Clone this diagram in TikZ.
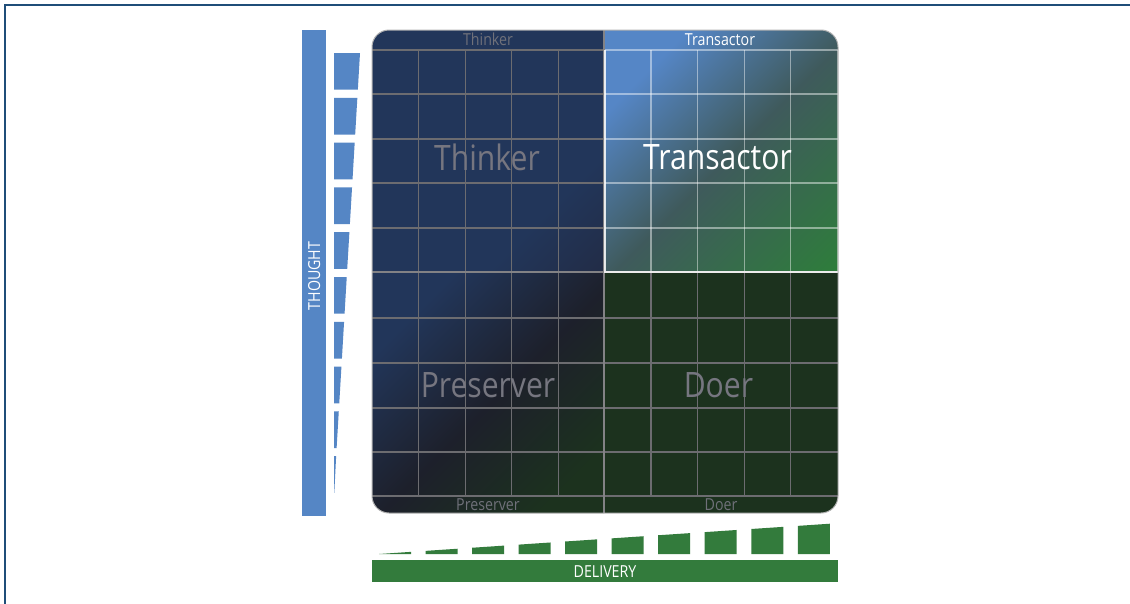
\documentclass[tikz,border=0pt]{standalone}
\usepackage{fontspec}
\setmainfont[FakeStretch=0.86]{Open Sans}
\definecolor{cFrame}{RGB}{31,78,121}
\definecolor{cThought}{RGB}{85,134,197}
\definecolor{cDelivery}{RGB}{51,123,60}
\definecolor{cNavy}{RGB}{34,54,90}
\definecolor{cNavyCorner}{RGB}{33,36,54}
\definecolor{cDarkMid}{RGB}{29,32,43}
\definecolor{cDarkGreen}{RGB}{28,50,30}
\definecolor{cTBlue}{RGB}{85,134,198}
\definecolor{cTTeal}{RGB}{63,90,92}
\definecolor{cTGreen}{RGB}{46,125,59}
\definecolor{cGrid}{RGB}{108,108,112}
\definecolor{cLabel}{RGB}{112,113,122}
\definecolor{cBigLabel}{RGB}{118,118,128}
\pgfdeclarehorizontalshading{thinkershade}{100bp}{color(0bp)=(cNavy); color(68bp)=(cNavy); color(100bp)=(cNavyCorner)}
\pgfdeclarehorizontalshading{preservershade}{100bp}{color(0bp)=(cNavy); color(27bp)=(cNavy); color(52bp)=(cDarkMid); color(76bp)=(cDarkGreen); color(100bp)=(cDarkGreen)}
\pgfdeclarehorizontalshading{transshade}{100bp}{color(0bp)=(cTBlue); color(27bp)=(cTBlue); color(52bp)=(cTTeal); color(85bp)=(cTGreen); color(100bp)=(cTGreen)}
\begin{document}
\begin{tikzpicture}[x=0.75pt,y=-0.75pt,
  smalllabel/.style={font=\fontsize{12.4}{14}\selectfont, inner sep=0pt, anchor=base},
  biglabel/.style={font=\fontsize{26.25}{30}\selectfont, inner sep=0pt, anchor=base},
  gridline/.style={draw=cGrid, line width=0.9pt},
  lightgrid/.style={draw=white, draw opacity=0.45, line width=0.9pt},
  divider/.style={draw=cGrid!85!white, line width=1.6pt}]
\useasboundingbox (0,0) rectangle (1130,603);
\fill[white] (0,0) rectangle (1130,603);
\draw[cFrame, line width=1.8pt] (5,5) rectangle (1160,640);

% THOUGHT bar and wedges
\fill[cThought] (302,30) rectangle (326,516);
\node[smalllabel, text=white, rotate=90] (thought) at (320,276) {THOUGHT};
\foreach \i in {0,...,9}{
  \pgfmathsetmacro\ta{53+44.8*\i}
  \pgfmathsetmacro\tb{\ta+36.7}
  \pgfmathsetmacro\xa{360-26*(\ta-53)/439}
  \pgfmathsetmacro\xb{max(334.3,360-26*(\tb-53)/439)}
  \fill[cThought] (334,\ta) -- (\xa,\ta) -- (\xb,\tb) -- (334,\tb) -- cycle;
}

% DELIVERY bar and wedges
\fill[cDelivery] (372,560) rectangle (838,582);
\node[smalllabel, text=white] (delivery) at (605,577.3) {DELIVERY};
\foreach \i in {0,...,9}{
  \pgfmathsetmacro\la{379+46.53*\i}
  \pgfmathsetmacro\lb{\la+32}
  \pgfmathsetmacro\ya{554-30.3*(\la-379)/451}
  \pgfmathsetmacro\yb{554-30.3*(\lb-379)/451}
  \fill[cDelivery] (\la,554) -- (\la,\ya) -- (\lb,\yb) -- (\lb,554) -- cycle;
}

% Matrix
\begin{scope}
  \clip[rounded corners=12.75pt] (372,30) rectangle (838,513);
  \shade[shading=thinkershade, shading angle=-45] (372,30) rectangle (604,272);
  \shade[shading=transshade, shading angle=-45] (604,30) rectangle (838,272);
  \shade[shading=preservershade, shading angle=-45] (372,272) rectangle (604,513);
  \fill[cDarkGreen] (604,272) rectangle (838,513);
  % grid: left column
  \foreach \x in {418.6,465.2,511.8,558.4}
    \draw[gridline] (\x,50) -- (\x,496);
  \foreach \y in {94,139,183,228,318,363,408,452}
    \draw[gridline] (372,\y) -- (604,\y);
  % grid: Doer
  \foreach \x in {651,697.6,744.2,790.8}
    \draw[gridline] (\x,272) -- (\x,496);
  \foreach \y in {318,363,408,452}
    \draw[gridline] (604,\y) -- (838,\y);
  % header / footer lines
  \draw[gridline] (372,50) -- (604,50);
  \draw[gridline] (372,496) -- (838,496);
  % grid: Transactor
  \foreach \x in {651,697.6,744.2,790.8}
    \draw[lightgrid] (\x,50) -- (\x,272);
  \foreach \y in {94,139,183,228}
    \draw[lightgrid] (604,\y) -- (838,\y);
  \draw[lightgrid] (604,50) -- (838,50);
  \draw[lightgrid] (837.5,50) -- (837.5,272);
  % dividers
  \draw[divider] (604,30) -- (604,513);
  \draw[divider] (372,272) -- (838,272);
  \draw[draw=white, draw opacity=0.85, line width=1.5pt] (605,50) -- (605,272) -- (838,272);
\end{scope}
\draw[draw=gray!60, line width=0.75pt, rounded corners=12.75pt] (372,30) rectangle (838,513);

% labels
\node[smalllabel, text=cLabel] (thinkerhead) at (488,45.5) {Thinker};
\node[smalllabel, text=white] (transhead) at (720,45.5) {Transactor};
\node[smalllabel, text=cLabel] (preserverfoot) at (488,510.5) {Preserver};
\node[smalllabel, text=cLabel] (doerfoot) at (721,510.5) {Doer};
\node[biglabel, text=cBigLabel] (thinker) at (487,170) {Thinker};
\node[biglabel, text=white] (transactor) at (717.5,169) {Transactor};
\node[biglabel, text=cBigLabel] (preserver) at (488,397.3) {Preserver};
\node[biglabel, text=cBigLabel] (doer) at (718.4,397.3) {Doer};
\end{tikzpicture}
\end{document}
